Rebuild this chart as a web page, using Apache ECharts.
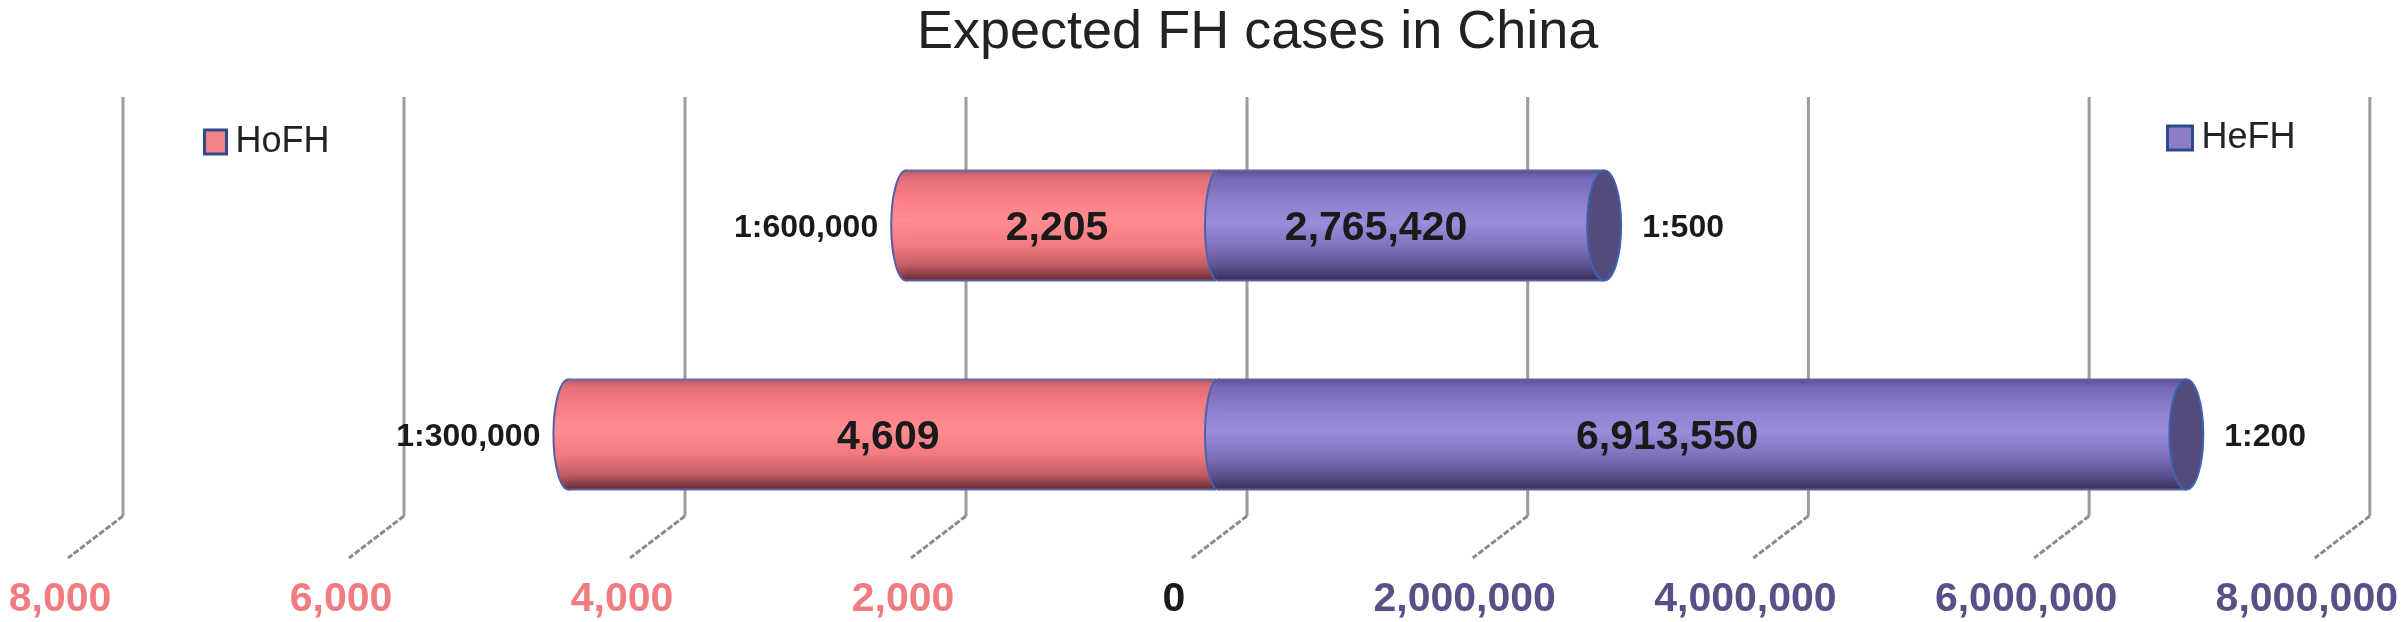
<!DOCTYPE html>
<html>
<head>
<meta charset="utf-8">
<script src="https://cdn.jsdelivr.net/npm/echarts@6/dist/echarts.min.js"></script>
<style>
html,body{margin:0;padding:0;background:#fff;}
#chart{width:2401px;height:622px;}
</style>
</head>
<body>
<div id="chart"></div>
<script>
const rows = ['1:600,000 / 1:500', '1:300,000 / 1:200'];
const hofhRatio = ['1:600,000', '1:300,000'];
const hefhRatio = ['1:500', '1:200'];
const hofhCases = [2205, 4609];
const hefhCases = [2765420, 6913550];
const hofhTicks = [0, 2000, 4000, 6000, 8000];
const hefhTicks = [0, 2000000, 4000000, 6000000, 8000000];

const FONT = '"Liberation Sans", Arial, sans-serif';
const fmt = v => v.toLocaleString('en-US');

const chart = echarts.init(document.getElementById('chart'));

const redStops = [
  {offset: 0, color: '#b45a6c'}, {offset: 0.07, color: '#e46e76'},
  {offset: 0.3, color: '#fd8187'}, {offset: 0.45, color: '#ff8d92'},
  {offset: 0.68, color: '#f27a80'}, {offset: 0.86, color: '#c45c63'},
  {offset: 1, color: '#6a2a35'}
];
const purpleStops = [
  {offset: 0, color: '#5a5090'}, {offset: 0.07, color: '#7668b4'},
  {offset: 0.33, color: '#9384d3'}, {offset: 0.48, color: '#9a8cda'},
  {offset: 0.7, color: '#7f70ba'}, {offset: 0.88, color: '#5a4e8c'},
  {offset: 1, color: '#372d58'}
];
const grad = stops => new echarts.graphic.LinearGradient(0, 0, 0, 1, stops);

const BAR_H = 110, CAP_RX = 15;

function gridRender(params, api) {
  const v = api.value(0);
  const p = api.coord([v, 0]);
  const cs = params.coordSys;
  const gx = p[0] + 31;
  const top = cs.y - 22, bot = cs.y + 397;
  return {type: 'group', children: [
    {type: 'line', shape: {x1: gx, y1: top, x2: gx, y2: bot}, style: {stroke: '#9c9c9c', lineWidth: 3}},
    {type: 'line', shape: {x1: gx, y1: bot, x2: gx - 55, y2: bot + 42}, style: {stroke: '#8c8c8c', lineWidth: 3, lineDash: [6, 2]}}
  ]};
}

function hofhRender(params, api) {
  const v = api.value(0), c = api.value(1), i = params.dataIndex;
  const end = api.coord([v, c]), zero = api.coord([0, c]);
  const cy = end[1] + 2, y0 = cy - BAR_H / 2;
  return {type: 'group', children: [
    {type: 'ellipse', shape: {cx: end[0], cy: cy, rx: CAP_RX, ry: BAR_H / 2},
      style: {fill: grad(redStops), stroke: '#5060a8', lineWidth: 2}},
    {type: 'rect', shape: {x: end[0], y: y0, width: zero[0] - end[0], height: BAR_H},
      style: {fill: grad(redStops)}},
    {type: 'line', shape: {x1: end[0], y1: y0, x2: zero[0], y2: y0}, style: {stroke: '#6a6aa6', lineWidth: 2}},
    {type: 'line', shape: {x1: end[0], y1: y0 + BAR_H, x2: zero[0], y2: y0 + BAR_H}, style: {stroke: '#5a64a4', lineWidth: 2}},
    {type: 'text', style: {text: fmt(v), x: (end[0] + zero[0]) / 2 - 4, y: cy + 3,
      fill: '#1a1a1a', font: 'bold 41px ' + FONT, align: 'center', verticalAlign: 'middle'}},
    {type: 'text', style: {text: hofhRatio[i], x: end[0] - 28, y: cy + 3,
      fill: '#1a1a1a', font: 'bold 32px ' + FONT, align: 'right', verticalAlign: 'middle'}}
  ]};
}

function hefhRender(params, api) {
  const v = api.value(0), c = api.value(1), i = params.dataIndex;
  const end = api.coord([v, c]), zero = api.coord([0, c]);
  const cy = end[1] + 2, y0 = cy - BAR_H / 2;
  return {type: 'group', children: [
    {type: 'ellipse', shape: {cx: zero[0] + 2, cy: cy, rx: CAP_RX - 2, ry: BAR_H / 2},
      style: {fill: grad(purpleStops), stroke: '#4a62b0', lineWidth: 2}},
    {type: 'rect', shape: {x: zero[0] + 2, y: y0, width: end[0] - zero[0] - 2, height: BAR_H},
      style: {fill: grad(purpleStops)}},
    {type: 'line', shape: {x1: zero[0] + 2, y1: y0, x2: end[0], y2: y0}, style: {stroke: '#5a64a4', lineWidth: 2}},
    {type: 'line', shape: {x1: zero[0] + 2, y1: y0 + BAR_H, x2: end[0], y2: y0 + BAR_H}, style: {stroke: '#5a64a4', lineWidth: 2}},
    {type: 'ellipse', shape: {cx: end[0], cy: cy, rx: CAP_RX + 2, ry: BAR_H / 2},
      style: {fill: '#534a7e', stroke: '#3f62b0', lineWidth: 2}},
    {type: 'text', style: {text: fmt(v), x: (end[0] + zero[0]) / 2 - 34, y: cy + 3,
      fill: '#1a1a1a', font: 'bold 41px ' + FONT, align: 'center', verticalAlign: 'middle'}},
    {type: 'text', style: {text: hefhRatio[i], x: end[0] + 38, y: cy + 3,
      fill: '#1a1a1a', font: 'bold 32px ' + FONT, align: 'left', verticalAlign: 'middle'}}
  ]};
}

const option = {
  backgroundColor: '#ffffff',
  animation: false,
  title: {
    text: 'Expected FH cases in China',
    left: 912, top: 1,
    textStyle: {fontFamily: FONT, fontSize: 54, fontWeight: 'normal', color: '#222222'}
  },
  legend: [
    {left: 203, top: 124, icon: 'rect', itemWidth: 22, itemHeight: 24, padding: 0,
      textStyle: {fontFamily: FONT, fontSize: 36, color: '#222222', padding: [0, 0, 0, 4]},
      data: [{name: 'HoFH', itemStyle: {color: '#f2838a', borderColor: '#2c4a8e', borderWidth: 3}}]},
    {left: 2166, top: 120, icon: 'rect', itemWidth: 25, itemHeight: 24, padding: 0,
      textStyle: {fontFamily: FONT, fontSize: 36, color: '#222222', padding: [0, 0, 0, 4]},
      data: [{name: 'HeFH', itemStyle: {color: '#8d7dc9', borderColor: '#2c4a8e', borderWidth: 3}}]}
  ],
  grid: [
    {left: 92, width: 1124, top: 119, height: 418},
    {left: 1216, width: 1124, top: 119, height: 418}
  ],
  xAxis: [
    {gridIndex: 0, type: 'value', inverse: true, min: 0, max: 8000, interval: 2000,
      axisLine: {show: false}, axisTick: {show: false}, splitLine: {show: false},
      axisLabel: {margin: 42, color: '#f07c82', fontFamily: FONT, fontSize: 41, fontWeight: 'bold',
        formatter: v => v === 0 ? '' : '{a|' + fmt(v) + '}',
        rich: {a: {padding: [0, 64, 0, 0], color: '#f07c82', fontFamily: FONT, fontSize: 41, fontWeight: 'bold'}}}},
    {gridIndex: 1, type: 'value', min: 0, max: 8000000, interval: 2000000,
      axisLine: {show: false}, axisTick: {show: false}, splitLine: {show: false},
      axisLabel: {margin: 42, color: '#5a5088', fontFamily: FONT, fontSize: 41, fontWeight: 'bold',
        formatter: v => v === 0 ? '{z|0}' : '{a|' + fmt(v) + '}',
        rich: {
          a: {padding: [0, 64, 0, 0], color: '#5a5088', fontFamily: FONT, fontSize: 41, fontWeight: 'bold'},
          z: {padding: [0, 84, 0, 0], color: '#1a1a1a', fontFamily: FONT, fontSize: 41, fontWeight: 'bold'}
        }}}
  ],
  yAxis: [
    {gridIndex: 0, type: 'category', inverse: true, data: rows, show: false},
    {gridIndex: 1, type: 'category', inverse: true, data: rows, show: false}
  ],
  series: [
    {type: 'custom', name: 'grid-left', xAxisIndex: 0, yAxisIndex: 0, z: 1, silent: true,
      renderItem: gridRender, data: hofhTicks.filter(v => v > 0).map(v => [v, 0])},
    {type: 'custom', name: 'grid-right', xAxisIndex: 1, yAxisIndex: 1, z: 1, silent: true,
      renderItem: gridRender, data: hefhTicks.map(v => [v, 0])},
    {type: 'custom', name: 'HoFH', xAxisIndex: 0, yAxisIndex: 0, z: 2,
      itemStyle: {color: '#f2838a'}, renderItem: hofhRender,
      encode: {x: 0, y: 1}, data: hofhCases.map((v, i) => [v, i])},
    {type: 'custom', name: 'HeFH', xAxisIndex: 1, yAxisIndex: 1, z: 3,
      itemStyle: {color: '#8d7dc9'}, renderItem: hefhRender,
      encode: {x: 0, y: 1}, data: hefhCases.map((v, i) => [v, i])}
  ]
};
chart.setOption(option);
</script>
</body>
</html>
